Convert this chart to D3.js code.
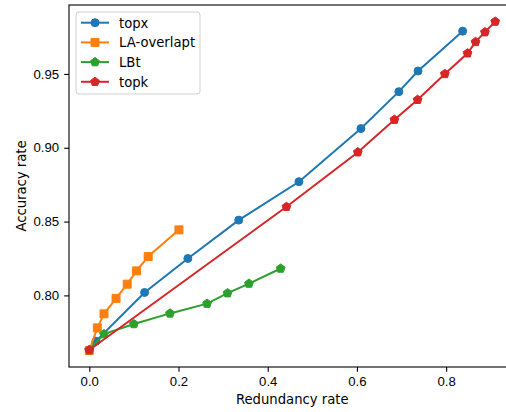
<!DOCTYPE html>
<html lang="en">
  <head>
    <meta charset="UTF-8" />
    <title>Accuracy vs Redundancy</title>
    <script src="https://d3js.org/d3.v7.min.js"></script>
    <style>
      body { margin: 0; background: #fff; }
      svg { display: block; font-family: "DejaVu Sans", sans-serif; }
      .tick text { font-size: 13.2px; fill: #000; }
      .axis-label { font-size: 13.2px; fill: #000; }
      .legend-text { font-size: 13.2px; fill: #000; }
    </style>
  </head>
  <body>
    <svg id="chart" width="506" height="412"></svg>
    <script>
      // series data
      const topxX = [0.0, 0.015, 0.124, 0.221, 0.335, 0.470, 0.609, 0.694, 0.737, 0.837];
      const topxY = [0.763, 0.769, 0.802, 0.825, 0.851, 0.877, 0.913, 0.938, 0.952, 0.979];

      const laX = [0.0, 0.018, 0.033, 0.060, 0.085, 0.106, 0.132, 0.201];
      const laY = [0.7626, 0.778, 0.7875, 0.798, 0.8076, 0.8166, 0.8263, 0.8444];

      const lbtX = [0.0, 0.033, 0.100, 0.181, 0.264, 0.310, 0.358, 0.429];
      const lbtY = [0.763, 0.7738, 0.7806, 0.7878, 0.7944, 0.8015, 0.808, 0.8182];

      const topkX = [0.0, 0.442, 0.602, 0.684, 0.736, 0.797, 0.848, 0.866, 0.887, 0.910];
      const topkY = [0.763, 0.860, 0.897, 0.919, 0.9325, 0.950, 0.964, 0.9717, 0.9783, 0.9855];

      const xTicks = [0.0, 0.2, 0.4, 0.6, 0.8];
      const yTicks = [0.80, 0.85, 0.90, 0.95];

      const series = [
        { name: "topx", xs: topxX, ys: topxY, color: "#1f77b4", marker: "circle" },
        { name: "LA-overlapt", xs: laX, ys: laY, color: "#ff7f0e", marker: "square" },
        { name: "LBt", xs: lbtX, ys: lbtY, color: "#2ca02c", marker: "pentagon" },
        { name: "topk", xs: topkX, ys: topkY, color: "#d62728", marker: "pentagon" },
      ];

      const svg = d3.select("#chart");
      const plot = { left: 69, top: 5, bottom: 367, right: 515.5 };

      const x = d3.scaleLinear().domain([-0.0455, 0.9555]).range([plot.left, plot.right]);
      const y = d3.scaleLinear().domain([0.7515, 0.9967]).range([plot.bottom, plot.top]);

      // marker shapes
      function markerPath(type) {
        if (type === "circle") return d3.symbol(d3.symbolCircle, Math.PI * 4 * 4)();
        if (type === "square") return "M-4,-4H4V4H-4Z";
        // pentagon, point up
        const r = 4.6;
        const pts = d3.range(5).map((i) => {
          const a = -Math.PI / 2 + (i * 2 * Math.PI) / 5;
          return [r * Math.cos(a), r * Math.sin(a)];
        });
        return "M" + pts.map((p) => p.join(",")).join("L") + "Z";
      }

      // axes
      const xAxis = svg
        .append("g")
        .attr("transform", `translate(0,${plot.bottom})`)
        .call(d3.axisBottom(x).tickValues(xTicks).tickFormat(d3.format(".1f")).tickSize(4.8).tickPadding(5));
      const yAxis = svg
        .append("g")
        .attr("transform", `translate(${plot.left},0)`)
        .call(d3.axisLeft(y).tickValues(yTicks).tickFormat(d3.format(".2f")).tickSize(4.8).tickPadding(5));
      [xAxis, yAxis].forEach((g) => {
        g.select(".domain").remove();
        g.selectAll(".tick line").attr("stroke", "#000").attr("stroke-width", 1.1);
      });

      // frame
      svg
        .append("rect")
        .attr("x", plot.left)
        .attr("y", plot.top)
        .attr("width", plot.right - plot.left)
        .attr("height", plot.bottom - plot.top)
        .attr("fill", "none")
        .attr("stroke", "#000")
        .attr("stroke-width", 1.1);

      // lines and markers
      const line = d3
        .line()
        .x((d) => x(d[0]))
        .y((d) => y(d[1]));

      series.forEach((s) => {
        const pts = s.xs.map((v, i) => [v, s.ys[i]]);
        const g = svg.append("g");
        g.append("path")
          .datum(pts)
          .attr("d", line)
          .attr("fill", "none")
          .attr("stroke", s.color)
          .attr("stroke-width", 2);
        g.selectAll("path.mk")
          .data(pts)
          .join("path")
          .attr("class", "mk")
          .attr("d", markerPath(s.marker))
          .attr("transform", (d) => `translate(${x(d[0])},${y(d[1])})`)
          .attr("fill", s.color)
          .attr("stroke", s.color)
          .attr("stroke-width", 1);
      });

      // axis labels
      svg
        .append("text")
        .attr("class", "axis-label")
        .attr("x", (plot.left + plot.right) / 2)
        .attr("y", 404)
        .attr("text-anchor", "middle")
        .text("Redundancy rate");
      svg
        .append("text")
        .attr("class", "axis-label")
        .attr("transform", `translate(26,${(plot.top + plot.bottom) / 2}) rotate(-90)`)
        .attr("text-anchor", "middle")
        .text("Accuracy rate");

      // legend
      const legend = svg.append("g").attr("transform", "translate(76,12)");
      legend
        .append("rect")
        .attr("x", 0)
        .attr("y", 0)
        .attr("width", 124)
        .attr("height", 82)
        .attr("rx", 3)
        .attr("fill", "#fff")
        .attr("fill-opacity", 0.8)
        .attr("stroke", "#d0d0d0");
      series.forEach((s, i) => {
        const cy = 10.7 + i * 19.7;
        legend
          .append("line")
          .attr("x1", 5)
          .attr("x2", 33)
          .attr("y1", cy)
          .attr("y2", cy)
          .attr("stroke", s.color)
          .attr("stroke-width", 2);
        legend
          .append("path")
          .attr("d", markerPath(s.marker))
          .attr("transform", `translate(19,${cy})`)
          .attr("fill", s.color)
          .attr("stroke", s.color);
        legend
          .append("text")
          .attr("class", "legend-text")
          .attr("x", 43)
          .attr("y", cy + 4.8)
          .text(s.name);
      });
    </script>
  </body>
</html>
